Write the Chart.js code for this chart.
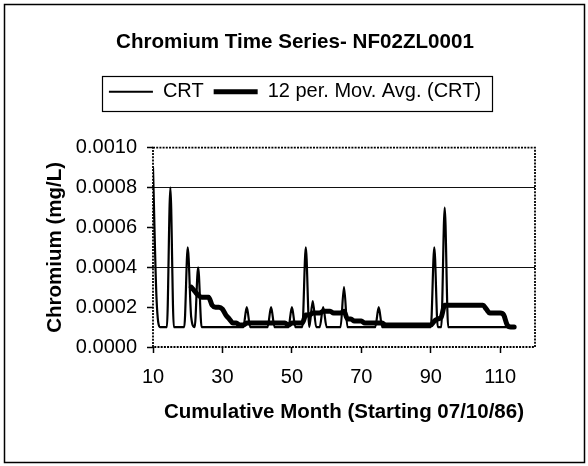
<!DOCTYPE html>
<html>
<head>
<meta charset="utf-8">
<script src="https://cdn.jsdelivr.net/npm/chart.js@4/dist/chart.umd.min.js"></script>
<style>
html,body{margin:0;padding:0;background:#fff;}
#wrap{width:588px;height:466px;position:relative;}
</style>
</head>
<body>
<div id="wrap"><canvas id="c" width="588" height="466"></canvas></div>
<script>
// ---- data ----
const chartTitle = 'Chromium Time Series- NF02ZL0001';
const seriesNames = ['CRT', '12 per. Mov. Avg. (CRT)'];
const xAxisTitle = 'Cumulative Month (Starting 07/10/86)';
const yAxisTitle = 'Chromium (mg/L)';
const xTicks = [10, 30, 50, 70, 90, 110];
const yTicks = [0, 0.0002, 0.0004, 0.0006, 0.0008, 0.0010];
const yGridValues = [0.0004, 0.0008];

const crtMonths = [
  10, 11, 12, 13, 14, 15, 16, 17, 18, 19,
  20, 21, 22, 23, 24, 25, 26, 27, 28, 29,
  30, 31, 32, 33, 34, 35, 36, 37, 38, 39,
  40, 41, 42, 43, 44, 45, 46, 47, 48, 49,
  50, 51, 52, 53, 54, 55, 56, 57, 58, 59,
  60, 61, 62, 63, 64, 65, 66, 67, 68, 69,
  70, 71, 72, 73, 74, 75, 76, 77, 78, 79,
  80, 81, 82, 83, 84, 85, 86, 87, 88, 89,
  90, 91, 92, 93, 94, 95, 96, 97, 98, 99,
  100, 101, 102, 103, 104, 105, 106, 107, 108, 109,
  110, 111, 112, 113, 114
];
const crtValues = [
  0.0009, 0.00025, 0.0001, 0.0001, 0.0001, 0.0008, 0.0001, 0.0001, 0.0001, 0.0001,
  0.0005, 0.00015, 0.0001, 0.0004, 0.0001, 0.0001, 0.0001, 0.0001, 0.0001, 0.0001,
  0.0001, 0.0001, 0.0001, 0.0001, 0.0001, 0.0001, 0.0001, 0.0002, 0.0001, 0.0001,
  0.0001, 0.0001, 0.0001, 0.0001, 0.0002, 0.0001, 0.0001, 0.0001, 0.0001, 0.0001,
  0.0002, 0.0001, 0.0001, 0.0001, 0.0005, 0.0001, 0.00023, 0.0001, 0.0001, 0.0002,
  0.0001, 0.0001, 0.0001, 0.0001, 0.0001, 0.0003, 0.0001, 0.0001, 0.0001, 0.0001,
  0.0001, 0.0001, 0.0001, 0.0001, 0.0001, 0.0002, 0.0001, 0.0001, 0.0001, 0.0001,
  0.0001, 0.0001, 0.0001, 0.0001, 0.0001, 0.0001, 0.0001, 0.0001, 0.0001, 0.0001,
  0.0001, 0.0005, 0.0001, 0.0001, 0.0007, 0.0001, 0.0001, 0.0001, 0.0001, 0.0001,
  0.0001, 0.0001, 0.0001, 0.0001, 0.0001, 0.0001, 0.0001, 0.0001, 0.0001, 0.0001,
  0.0001, 0.0001, 0.0001, 0.0001, 0.0001
];

const maMonths = [
  21, 22, 23, 24, 25, 26, 27, 28, 29,
  30, 31, 32, 33, 34, 35, 36, 37, 38, 39,
  40, 41, 42, 43, 44, 45, 46, 47, 48, 49,
  50, 51, 52, 53, 54, 55, 56, 57, 58, 59,
  60, 61, 62, 63, 64, 65, 66, 67, 68, 69,
  70, 71, 72, 73, 74, 75, 76, 77, 78, 79,
  80, 81, 82, 83, 84, 85, 86, 87, 88, 89,
  90, 91, 92, 93, 94, 95, 96, 97, 98, 99,
  100, 101, 102, 103, 104, 105, 106, 107, 108, 109,
  110, 111, 112, 113, 114
];
const maValues = [
  0.00030, 0.00028, 0.00026, 0.00025, 0.00025, 0.00025, 0.00021, 0.00020, 0.00020,
  0.00019, 0.00016, 0.00014, 0.00012, 0.00012, 0.00011, 0.00011, 0.00012, 0.00012, 0.00012,
  0.00012, 0.00012, 0.00012, 0.00012, 0.00012, 0.00012, 0.00012, 0.00012, 0.00012, 0.00011,
  0.00012, 0.00012, 0.00012, 0.00012, 0.00016, 0.00016, 0.00017, 0.00017, 0.00017, 0.00018,
  0.00018, 0.00018, 0.00017, 0.00017, 0.00017, 0.00018, 0.00014, 0.00014, 0.00013, 0.00013,
  0.00013, 0.00012, 0.00012, 0.00012, 0.00012, 0.00012, 0.00012, 0.00011, 0.00011, 0.00011,
  0.00011, 0.00011, 0.00011, 0.00011, 0.00011, 0.00011, 0.00011, 0.00011, 0.00011, 0.00011,
  0.00011, 0.00013, 0.00014, 0.00015, 0.00021, 0.00021, 0.00021, 0.00021, 0.00021, 0.00021,
  0.00021, 0.00021, 0.00021, 0.00021, 0.00021, 0.00021, 0.00019, 0.00017, 0.00017, 0.00017,
  0.00017, 0.00016, 0.00011, 0.00010, 0.00010
];

// ---- chart ----
Chart.defaults.font.family = "'Liberation Sans', Arial, Helvetica, sans-serif";
Chart.defaults.color = '#000';

const isGridValue = v => yGridValues.some(g => Math.abs(g - v) < 1e-9);
const fmtX = v => String(v);
const fmtY = v => Number(v).toFixed(4);

const setTicks = (s, values, fmt) => {
  s.ticks = values.map(v => ({value: v, label: fmt(v)}));
  s._labelSizes = null;
  s._labelItems = null;
  s._gridLineItems = null;
};

const framePlugin = {
  id: 'frame',
  beforeDraw(chart) {
    // make sure every tick label survives (no auto-skipping)
    setTicks(chart.scales.x, xTicks, fmtX);
    setTicks(chart.scales.y, yTicks, fmtY);
  },
  beforeDatasetsDraw(chart) {
    const {ctx, chartArea: a} = chart;
    ctx.save();
    ctx.strokeStyle = '#000';
    ctx.lineWidth = 1.8;
    ctx.setLineDash([2, 1.2]);
    ctx.strokeRect(a.left, a.top, a.right - a.left, a.bottom - a.top);
    ctx.restore();
  },
  afterDraw(chart) {
    const ctx = chart.ctx;
    ctx.save();
    ctx.strokeStyle = '#000';
    ctx.lineWidth = 1.5;
    ctx.strokeRect(4.5, 4.5, chart.width - 8, chart.height - 8);
    const hb = chart.legend && chart.legend.legendHitBoxes;
    if (hb && hb.length) {
      const first = hb[0], last = hb[hb.length - 1];
      const l = first.left - 7, r = last.left + last.width + 11;
      const t = first.top - 6, b = first.top + first.height + 9;
      ctx.lineWidth = 1.2;
      ctx.strokeRect(Math.round(l) + 0.5, Math.round(t) + 0.5, Math.round(r - l), Math.round(b - t));
    }
    ctx.restore();
  }
};

new Chart(document.getElementById('c'), {
  type: 'line',
  data: {
    datasets: [
      {
        label: seriesNames[0],
        data: crtMonths.map((m, i) => ({x: m, y: crtValues[i]})),
        borderColor: '#000', backgroundColor: '#000', borderWidth: 2.2,
        pointRadius: 0, pointBorderWidth: 2, pointBorderColor: '#000', pointBackgroundColor: '#000',
        cubicInterpolationMode: 'monotone', tension: 0.4, fill: false
      },
      {
        label: seriesNames[1],
        data: maMonths.map((m, i) => ({x: m, y: maValues[i]})),
        borderColor: '#000', backgroundColor: '#000', borderWidth: 5,
        pointRadius: 0, pointBorderWidth: 5, pointBorderColor: '#000', pointBackgroundColor: '#000',
        cubicInterpolationMode: 'monotone', tension: 0.4,
        borderJoinStyle: 'round', borderCapStyle: 'round', fill: false
      }
    ]
  },
  options: {
    responsive: false, animation: false, devicePixelRatio: 1, events: [],
    layout: {padding: {left: 2, right: 0, top: 0, bottom: 0}},
    plugins: {
      title: {display: true, text: chartTitle, color: '#000', font: {size: 20.6, weight: 'bold'}, padding: {top: 30, bottom: 17}},
      legend: {display: true, weight: 1800, labels: {usePointStyle: true, pointStyle: 'line', pointStyleWidth: 44, padding: 10, color: '#000', font: {size: 20}}},
      subtitle: {display: true, text: '', weight: 1000, font: {size: 10}, padding: {top: 24, bottom: 0}},
      tooltip: {enabled: false}
    },
    scales: {
      x: {
        type: 'linear', min: 10, max: 120,
        afterBuildTicks: s => { s.ticks = xTicks.map(v => ({value: v})); },
        afterFit: s => { s.height = 119; },
        afterUpdate: s => setTicks(s, xTicks, fmtX),
        grid: {drawOnChartArea: false, color: '#000', tickColor: '#000', tickLength: 6, tickWidth: 1.5},
        border: {display: false},
        ticks: {padding: 12, color: '#000', font: {size: 20}, maxRotation: 0, minRotation: 0, autoSkip: false, callback: fmtX},
        title: {display: true, text: xAxisTitle, color: '#000', font: {size: 20.5, weight: 'bold'}, padding: {top: 0, bottom: 41}}
      },
      y: {
        type: 'linear', min: 0, max: 0.001,
        afterBuildTicks: s => { s.ticks = yTicks.map(v => ({value: v})); },
        afterFit: s => { s.width = 151; },
        afterUpdate: s => setTicks(s, yTicks, fmtY),
        grid: {color: c => (c.tick && isGridValue(c.tick.value)) ? '#111' : 'rgba(0,0,0,0)', lineWidth: 1, tickColor: '#000', tickLength: 6, tickWidth: 1.5},
        border: {display: false},
        ticks: {padding: 10, color: '#000', font: {size: 20}, autoSkip: false, callback: fmtY},
        title: {display: true, text: yAxisTitle, color: '#000', font: {size: 20.5, weight: 'bold'}, padding: {top: 41, bottom: 0}}
      },
      y2: {
        type: 'linear', position: 'right', display: true,
        grid: {display: false}, border: {display: false}, ticks: {display: false},
        afterFit: s => { s.width = 53; }
      }
    }
  },
  plugins: [framePlugin]
});
</script>
</body>
</html>
